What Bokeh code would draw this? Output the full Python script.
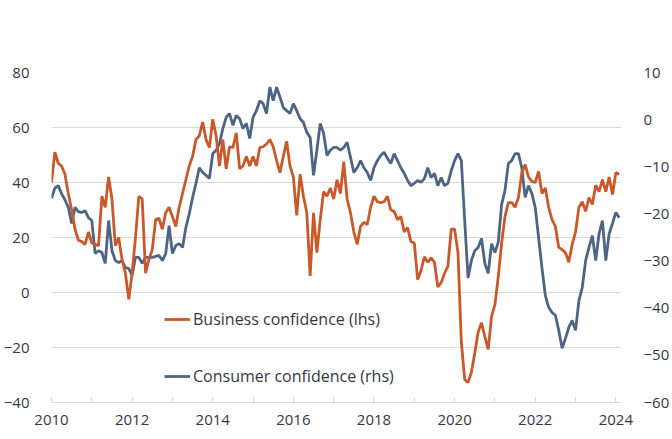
import numpy as np
from bokeh.plotting import figure
from bokeh.models import Range1d, LinearAxis, FixedTicker, Legend, LegendItem, ColumnDataSource
from bokeh.embed import file_html
from bokeh.resources import INLINE

# Monthly data, Jan 2010 - Feb 2024
business = [
    40, 51, 47, 46, 43, 36, 30, 23, 19, 18.5, 17.5, 22,          # 2010
    18, 17.5, 17, 35, 31, 42, 34, 17, 20, 12, 7, -2.5,          # 2011
    7, 20, 35, 34, 7, 12, 15.6, 26.5, 27, 23, 29, 31,           # 2012
    27.6, 24, 31, 36, 41, 46, 49.5, 55.6, 57, 62, 55.6, 52.7,   # 2013
    63, 57, 46, 55.6, 45, 53, 52.7, 58, 45, 46, 49.5, 46,       # 2014
    49.5, 46, 52.7, 53, 54, 55.6, 53, 48, 43.6, 49.5, 55, 46,   # 2015
    42, 28, 43, 35, 29, 6, 29, 14.5, 26.5, 36.7, 35, 38,        # 2016
    34, 41, 36, 47.6, 34, 29, 22, 17.5, 24, 25.5, 24.7, 31,     # 2017
    35, 33, 32.7, 33, 35, 30, 29.5, 26.5, 27.6, 22, 23.6, 18.5, # 2018
    18, 4.7, 8, 13, 11, 12.6, 11, 2, 3.6, 7, 9.5, 23,           # 2019
    23, 14.5, -18, -31.6, -32.7, -29, -22, -14.5, -11, -16, -20.7, -8.7,  # 2020
    -4.4, 5.8, 18, 27.6, 32.7, 32.7, 31, 34.5, 43.6, 46.5, 42, 40.4,     # 2021
    40, 44, 36, 38, 31, 26.5, 24, 16.4, 15.6, 14.5, 11, 17.5,   # 2022
    22, 31, 33, 29.5, 34.5, 32, 39, 36.7, 41, 36.7, 42, 35.6,   # 2023
    43.6, 43,                                                   # 2024
]
consumer = [
    -16.7, -14.5, -14, -15.7, -17, -18.6, -22, -18.6, -19.5, -19.7, -19.3, -20.8,   # 2010
    -21.4, -28.4, -27.8, -28.2, -30.5, -21.4, -27.8, -29.9, -30.3, -29.9, -31.4, -31.6,  # 2011
    -33, -29.2, -29.2, -30.5, -29.2, -29.2, -29.2, -29, -28.8, -29.9, -28.4, -22.5,  # 2012
    -28.4, -26.7, -26.3, -27.1, -22.9, -20, -16.5, -13.5, -10.2, -11.2, -11.8, -12.5,  # 2013
    -7.2, -6.5, -5.1, -1.9, 0.5, 1.3, -1.2, 0.9, 0.2, -1.9, -0.8, -4,   # 2014
    0.5, 1.9, 4, 3.4, 1.3, 6.9, 4, 6.9, 4.8, 2.6, 1.9, 1.3,            # 2015
    3.4, 1.9, 0.2, -0.6, -2.7, -3.8, -11.8, -6.5, -0.8, -2.9, -7.6, -6.5,  # 2016
    -5.9, -5.9, -6.5, -5.9, -4.8, -8, -11.2, -10.2, -8.7, -10.2, -11.2, -12.9,  # 2017
    -10.2, -8.7, -7.6, -6.9, -8.2, -9.3, -7.2, -8.7, -10.2, -11.4, -12.9, -14,  # 2018
    -13.5, -12.9, -13.3, -12.5, -10.2, -12.3, -11.4, -14, -12.3, -14, -13.5, -10.8,  # 2019
    -8.7, -7.2, -8.7, -21.4, -33.6, -29.9, -27.8, -27.1, -25.2, -30.5, -32.6, -26.3,  # 2020
    -28.2, -26, -18, -15, -9.3, -8.7, -7.2, -7.2, -10.2, -16.5, -14, -15.7,  # 2021
    -18.6, -25, -31.4, -37.3, -39.8, -40.9, -41.5, -44.7, -48.5, -46.4, -44, -42.6,  # 2022
    -44.7, -38.4, -35.6, -29.9, -27.1, -24.6, -29.9, -24.2, -21.4, -29.9, -24.2, -22,  # 2023
    -19.7, -20.8,  # 2024
]
start_year = 2010
year_ticks = list(range(2010, 2025))
left_ticks = [-40, -20, 0, 20, 40, 60, 80]
right_ticks = [-60, -50, -40, -30, -20, -10, 0, 10]

t = start_year + np.arange(len(business)) / 12.0
src = ColumnDataSource(dict(t=t, b=business, c=consumer))

FONT = "Open Sans"
TXT = "#363646"
GRID = "#d9d9d9"
ORANGE = "#C9582A"
BLUE = "#4E6484"

p = figure(width=672, height=439, output_backend="svg", toolbar_location=None,
           x_range=Range1d(2010, 2024.14), y_range=Range1d(-40, 80),
           min_border_left=50, min_border_right=48, min_border_top=72, min_border_bottom=37)
p.outline_line_color = None
p.background_fill_color = "white"
p.border_fill_color = "white"
p.extra_y_ranges = {"right": Range1d(-60, 10)}

p.xgrid.grid_line_color = None
p.ygrid.grid_line_color = GRID
p.ygrid.grid_line_width = 1

# left axis
ya = p.yaxis[0]
ya.ticker = FixedTicker(ticks=left_ticks)
ya.axis_line_color = None
ya.major_tick_line_color = None
ya.minor_tick_line_color = None
ya.major_label_standoff = 16
ya.major_label_text_font = FONT
ya.major_label_text_font_size = "15px"
ya.major_label_text_color = TXT

# bottom axis
xa = p.xaxis[0]
xa.ticker = FixedTicker(ticks=year_ticks)
xa.major_label_overrides = {y: ("" if y % 2 else str(y)) for y in year_ticks}
xa.axis_line_color = GRID
xa.major_tick_line_color = GRID
xa.major_tick_in = 5
xa.major_tick_out = 0
xa.minor_tick_line_color = None
xa.major_label_standoff = 12
xa.major_label_text_font = FONT
xa.major_label_text_font_size = "15px"
xa.major_label_text_color = TXT

# right axis
ra = LinearAxis(y_range_name="right", ticker=FixedTicker(ticks=right_ticks))
ra.axis_line_color = None
ra.major_tick_line_color = None
ra.minor_tick_line_color = None
ra.major_label_standoff = 16
ra.major_label_text_font = FONT
ra.major_label_text_font_size = "15px"
ra.major_label_text_color = TXT
p.add_layout(ra, "right")

rc = p.line("t", "c", source=src, color=BLUE, line_width=2.8, y_range_name="right")
rb = p.line("t", "b", source=src, color=ORANGE, line_width=2.8)

legend = Legend(items=[LegendItem(label="Business confidence (lhs)", renderers=[rb]),
                       LegendItem(label="Consumer confidence (rhs)", renderers=[rc])],
                location=(113, 15), orientation="vertical",
                glyph_width=26, glyph_height=20, label_height=20, spacing=35,
                label_standoff=3, padding=0, margin=0,
                border_line_color=None, background_fill_alpha=0,
                label_text_font=FONT, label_text_font_size="16px", label_text_color=TXT)
p.add_layout(legend, "center")

open("out.html", "w").write(file_html(p, INLINE))
